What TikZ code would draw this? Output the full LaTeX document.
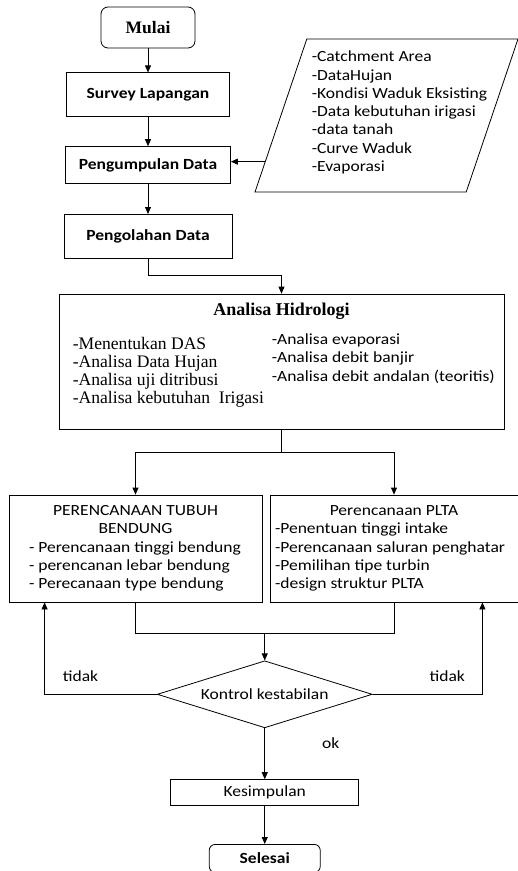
\documentclass[tikz,border=0pt]{standalone}
\usepackage{fontspec}
\setmainfont{Carlito}[FakeStretch=1.13]
\newfontfamily\serif{Liberation Serif}
\usepackage{tikz}
\usetikzlibrary{positioning,arrows.meta,shapes.geometric,calc}

\begin{document}
\begin{tikzpicture}[
  box/.style={draw, align=center, font=\fontsize{15.5}{18.3}\selectfont, inner sep=0pt, line width=0.8pt},
  bbox/.style={box, font=\fontsize{15.5}{18.3}\selectfont\bfseries},
  startstop/.style={box, rounded corners=7pt},
  decision/.style={draw, diamond, aspect=3.2, font=\fontsize{15.5}{18.3}\selectfont, inner sep=0pt, line width=0.8pt},
  inputbox/.style={draw, trapezium, trapezium left angle=72, trapezium right angle=108, trapezium stretches=true, inner sep=2pt, line width=0.8pt},
  txt/.style={align=left, inner sep=0pt},
  lbl/.style={inner sep=0pt, font=\fontsize{15.5}{18}\selectfont},
  lin/.style={line width=0.8pt},
  arr/.style={-{Triangle[length=7pt,width=6pt]}, line width=0.8pt}
]
\useasboundingbox (0,0) rectangle (518pt,-871pt);

\node[startstop, font=\serif\bfseries\fontsize{17.5}{20}\selectfont, minimum width=94pt, minimum height=41pt] (mulai) at (148pt,-27.5pt) {Mulai};
\node[bbox, minimum width=163pt, minimum height=44pt, below=24pt of mulai] (survey) {Survey Lapangan};
\node[bbox, minimum width=165pt, minimum height=37pt, below=29pt of survey] (kumpul) {Pengumpulan Data};
\node[bbox, minimum width=168pt, minimum height=44pt, below=30pt of kumpul] (olah) {Pengolahan Data};

% data masukan
\node[inputbox, minimum width=263pt, minimum height=153pt] (data) at (386.5pt,-115.5pt) {};
\node[txt, font=\fontsize{15.5}{18.3}\selectfont, xshift=13pt, yshift=3pt] (datateks) at (data.center)
  {-Catchment Area\\ -DataHujan\\ -Kondisi Waduk Eksisting\\ -Data kebutuhan irigasi\\ -data tanah\\ -Curve Waduk\\ -Evaporasi};
\coordinate (datakiri) at ($(data.bottom left corner)!0.2!(data.top left corner)$);

% analisa hidrologi
\node[box, minimum width=445pt, minimum height=135pt] (hidro) at (281.5pt,-361.5pt) {};
\node[txt, font=\serif\bfseries\fontsize{18}{20}\selectfont, below=9pt of hidro.north] (hidrojudul) {Analisa Hidrologi};
\node[txt, font=\serif\fontsize{17.6}{18.3}\selectfont, anchor=north west] (hidrokiri) at ($(hidro.north west)+(14pt,-43pt)$)
  {-Menentukan DAS\\ -Analisa Data Hujan\\ -Analisa uji ditribusi\\ -Analisa kebutuhan~~Irigasi};
\node[txt, font=\fontsize{15.5}{18.3}\selectfont, anchor=north west] (hidrokanan) at ($(hidro.north west)+(213pt,-40pt)$)
  {-Analisa evaporasi\\ -Analisa debit banjir\\ -Analisa debit andalan (teoritis)};

% perencanaan
\node[box, align=none, minimum width=253pt, minimum height=107pt, text width=213pt] (kiri) at (135.5pt,-548.5pt)
  {\centering PERENCANAAN TUBUH\\ BENDUNG\par\raggedright
   - Perencanaan tinggi bendung\\ - perencanan lebar bendung\\ - Perecanaan type bendung\par};
\node[box, align=none, minimum width=248pt, minimum height=107pt, text width=238pt] (kanan) at (394pt,-548.5pt)
  {\centering Perencanaan PLTA\par\raggedright
   -Penentuan tinggi intake\\ -Perencanaan saluran penghatar\\ -Pemilihan tipe turbin\\ -design struktur PLTA\par};

\coordinate (gabung) at ($(kiri.south)!0.5!(kanan.south)+(0,-31pt)$);
\node[decision, minimum width=215pt, minimum height=67pt, below=27pt of gabung] (kontrol) {Kontrol kestabilan};
\node[box, minimum width=188pt, minimum height=26pt, below=51pt of kontrol] (simpul) {Kesimpulan};
\node[startstop, bbox, rounded corners=6pt, minimum width=111pt, minimum height=28pt, below=38pt of simpul] (selesai) {Selesai};

\draw[arr] (mulai) -- (survey);
\draw[arr] (survey) -- (kumpul);
\draw[arr] (datakiri) -- (datakiri -| kumpul.east);
\draw[arr] (kumpul) -- (olah);
\draw[arr] (olah.south) -- ++(0,-17pt) -| (hidro.north);
\draw[lin] (hidro.south) -- ++(0,-23pt) coordinate (pisah);
\draw[arr] (pisah) -| (kiri.north);
\draw[arr] (pisah) -| (kanan.north);
\draw[lin] (kiri.south) -- ++(0,-31pt) -| (kanan.south);
\draw[arr] (gabung) -- (kontrol);
\draw[arr] (kontrol.west) -| node[lbl, pos=0.34, above=12pt] {tidak} ($(kiri.south west)+(36pt,0)$);
\draw[arr] (kontrol.east) -| node[lbl, pos=0.34, above=12pt] {tidak} ($(kanan.south east)+(-36pt,0)$);
\draw[arr] (kontrol) -- node[lbl, pos=0.3, right=57pt] {ok} (simpul);
\draw[arr] (simpul) -- (selesai);
\end{tikzpicture}
\end{document}
